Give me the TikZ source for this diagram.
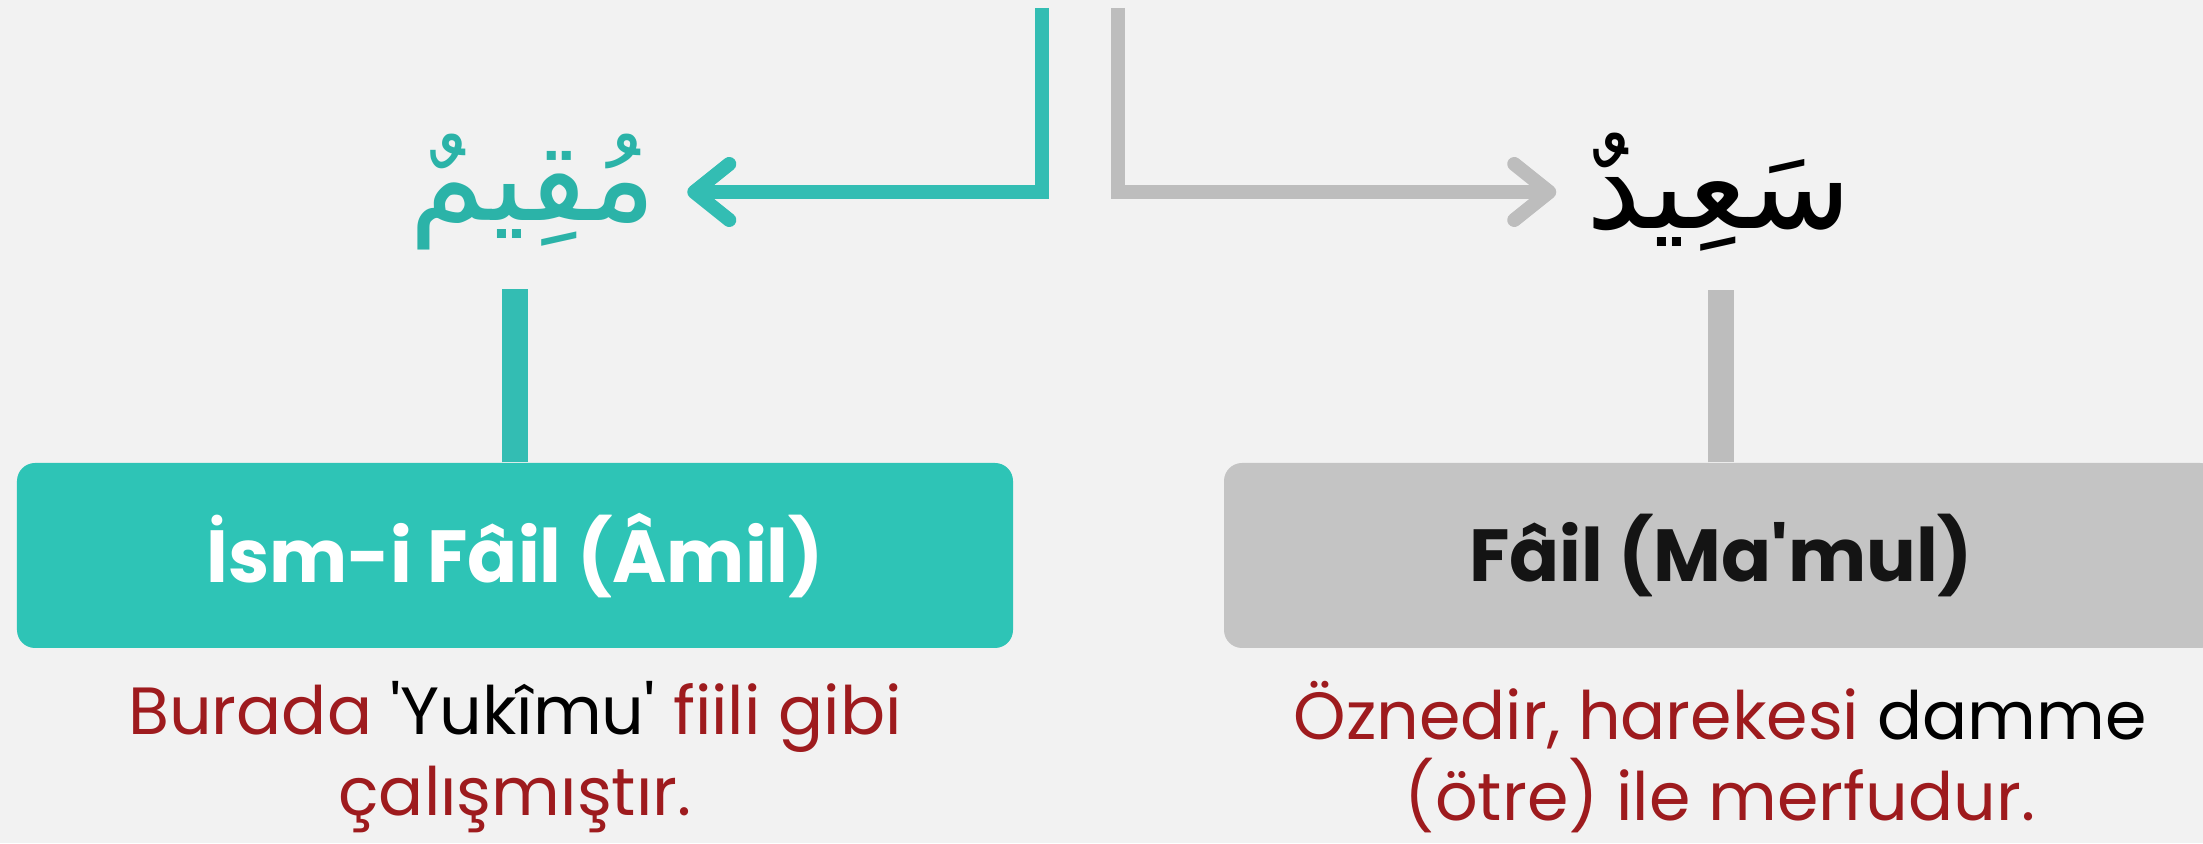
\documentclass[tikz,border=0pt]{standalone}
\usepackage{fontspec}
\setmainfont{Poppins}[Ligatures=TeXOff]
\newfontfamily\arabicfont[Script=Arabic]{DejaVu Sans}
\TeXXeTstate=1
\usetikzlibrary{arrows.meta}
\definecolor{bgcol}{HTML}{F2F2F2}
\definecolor{tealbox}{HTML}{2EC4B6}
\definecolor{tealline}{HTML}{33BDB3}
\definecolor{tealtext}{HTML}{2BB3A8}
\definecolor{grayline}{HTML}{BDBDBD}
\definecolor{graybox}{HTML}{C4C4C4}
\definecolor{capred}{HTML}{9E1B1E}
\begin{document}
\begin{tikzpicture}
\tikzstyle{every node}=[inner sep=0pt];
\tikzstyle{arab}=[inner xsep=0.3cm, inner ysep=0.38cm, font=\arabicfont\fontsize{35}{40}\selectfont];
\tikzstyle{box}=[rounded corners=0.18cm, minimum height=1.85cm, font=\bfseries\fontsize{21}{26}\selectfont];
\tikzstyle{note}=[align=center, text=capred, font=\fontsize{19}{23}\selectfont];
\tikzstyle{link}=[line width=0.14cm];
\tikzstyle{stem}=[line width=0.26cm];
\tikzstyle{barb}=[-{Straight Barb[length=0.35cm, width=0.56cm, round]}];
\fill [bgcol] (0,0) rectangle (22.03,8.43);
\useasboundingbox (0,0) rectangle (22.03,8.43);
\node [box, fill=tealbox, text=white, minimum width=9.96cm] (amil) at (5.15,2.875) {İsm-i Fâil (Âmil)};
\node [box, fill=graybox, text=black!92, minimum width=9.94cm] (mamul) at (17.21,2.875) {Fâil (Ma'mul)};
\node [arab, text=tealtext] (mukim) at (5.33,6.51) {\beginR مُقِيمٌ\endR};
\node [arab, text=black] (said) at (17.19,6.51) {\beginR سَعِيدٌ\endR};
\node [note] (amilnote) at (5.15,0.86) {Burada \textcolor{black}{'Yukîmu'} fiili gibi\\çalışmıştır.};
\node [note] (mamulnote) at (17.2,0.86) {Öznedir, harekesi \textcolor{black}{damme}\\(ötre) ile merfudur.};
\coordinate (tealtop) at (10.42,8.35);
\coordinate (graytop) at (11.18,8.35);
\draw [link, tealline, barb] (tealtop) |- (mukim); % amil
\draw [link, grayline, barb] (graytop) |- (said); % mamul
\draw [stem, tealline] (amil.north) -- (amil.north |- mukim.south);
\draw [stem, grayline] (mamul.north) -- (mamul.north |- said.south);
\end{tikzpicture}
\end{document}
